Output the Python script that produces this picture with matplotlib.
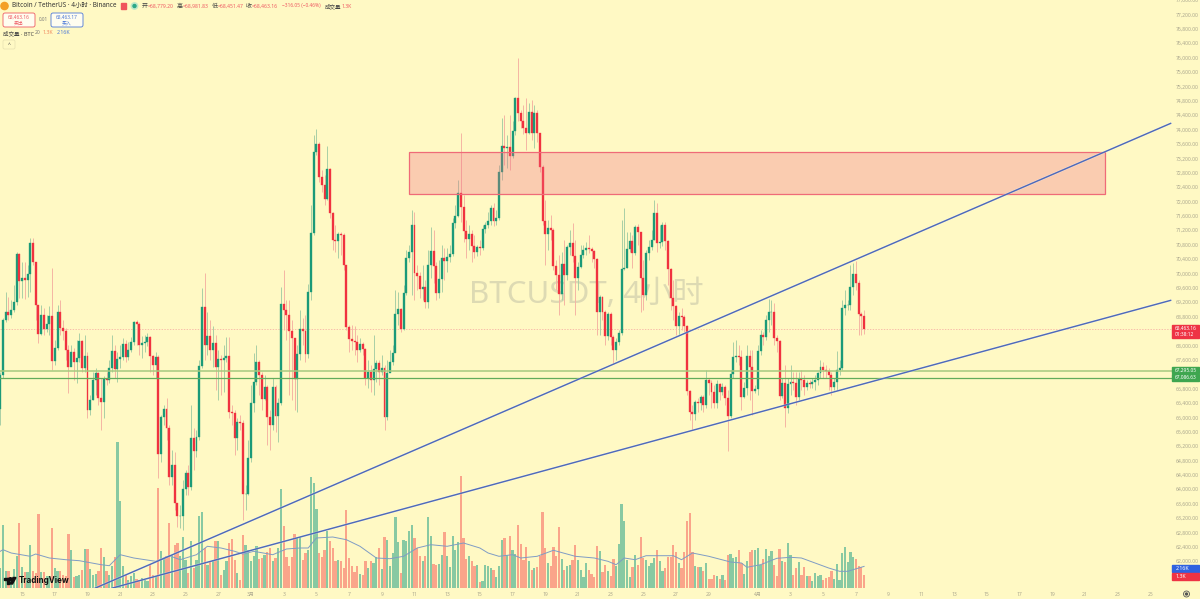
import numpy as np
import matplotlib
matplotlib.use("Agg")
import matplotlib.pyplot as plt
from matplotlib.patches import Circle, Polygon, Rectangle, FancyBboxPatch

plt.rcParams['font.family'] = ['Noto Sans', 'Noto Sans CJK SC', 'DejaVu Sans']

first_open = 66230
closes = [
    67170, 68700, 68920, 68840, 68980, 69200, 70530, 69780, 69870, 69810,
    69980, 70840, 70310, 69120, 68310, 68840, 68450, 68590, 68810, 67560,
    67920, 68920, 68480, 68390, 67870, 67390, 67810, 67530, 67640, 68120,
    67370, 67700, 66200, 66480, 67030, 67230, 66530, 66420, 67060, 67030,
    67370, 67840, 67340, 67620, 67670, 68030, 67670, 67870, 68090, 68640,
    68590, 68010, 68060, 68090, 68230, 67700, 67450, 67670, 64980, 66000,
    66230, 65700, 64340, 64670, 63620, 63260, 63260, 64000, 64450, 64060,
    65420, 65060, 65450, 67420, 69060, 68010, 68250, 67870, 68060, 67390,
    67620, 67590, 67640, 67700, 66140, 66120, 65420, 65870, 65840, 63870,
    63870, 64870, 66390, 66980, 67530, 67170, 66510, 66840, 66000, 65780,
    66840, 66030, 66390, 69140, 68980, 68840, 68390, 68200, 67060, 67760,
    68450, 68390, 67760, 69480, 71120, 73370, 73590, 72670, 72450, 72060,
    72890, 71670, 70920, 70890, 71090, 71060, 70230, 68510, 68170, 68120,
    68090, 67870, 68030, 67890, 67090, 67250, 67030, 67340, 67500, 67250,
    67370, 66000, 67230, 67530, 67780, 68870, 69000, 68450, 69450, 70420,
    70590, 71340, 70000, 69920, 69560, 69620, 69200, 70230, 70620, 70200,
    69450, 69840, 70420, 70340, 70450, 70530, 71400, 71590, 72230, 71840,
    71170, 70950, 71090, 70760, 70590, 70730, 70700, 71230, 71340, 71450,
    71810, 71450, 71530, 72810, 73530, 73480, 73510, 73250, 73950, 74870,
    74450, 74230, 74030, 73890, 74480, 73890, 74450, 73890, 72950, 71450,
    71090, 71250, 71200, 70200, 69950, 69420, 70250, 69950, 70730, 70840,
    70480, 69870, 70170, 70500, 70640, 70700, 70670, 70620, 70390, 68920,
    69340, 68920, 68250, 68870, 68230, 67870, 68090, 68340, 70120, 70140,
    70670, 70890, 70560, 71280, 71140, 69870, 69390, 70560, 70730, 70920,
    71670, 70840, 70870, 71340, 70890, 70120, 69310, 69090, 68530, 68810,
    68780, 68530, 66730, 66140, 66090, 66420, 66390, 66560, 66340, 67030,
    66950, 66700, 66390, 66920, 66700, 66840, 66530, 66030, 67200, 67670,
    67700, 67670, 66560, 66810, 67700, 67390, 66730, 66780, 67840, 68280,
    68230, 68700, 68920, 68920, 68200, 68120, 66590, 66950, 66250, 66920,
    66980, 66950, 66560, 67060, 67030, 66840, 66950, 66920, 66980, 67030,
    67230, 67390, 67310, 67280, 67170, 66840, 66980, 67310, 67370, 69030,
    69120, 69120, 69620, 69980, 69730, 68870, 68810, 68463,
]
highs = [
    67250, 68750, 69480, 69340, 69260, 69670, 70590, 70560, 70310, 70310,
    70230, 70980, 70980, 70310, 69120, 69120, 69030, 68840, 69090, 70140,
    68140, 69120, 69260, 68700, 68480, 68010, 68010, 67920, 68140, 68340,
    68140, 68280, 67810, 66620, 67250, 67370, 67250, 67090, 67140, 67250,
    67590, 68280, 68010, 67810, 68010, 68200, 68140, 68090, 68230, 68670,
    68700, 68640, 68250, 68280, 68340, 68250, 67730, 67810, 67730, 66060,
    66340, 66530, 65780, 65090, 65030, 63620, 63560, 64250, 64530, 64670,
    66340, 65700, 65640, 67590, 69590, 70000, 68920, 68700, 68530, 68280,
    67870, 67730, 68010, 68230, 68230, 66340, 66200, 65980, 66060, 65920,
    64120, 65370, 66890, 67780, 68010, 67590, 67250, 67170, 66890, 66200,
    67090, 66890, 66530, 69620, 70090, 69260, 69260, 68700, 68200, 68010,
    68980, 68750, 68840, 69700, 71890, 73840, 74000, 73640, 72870, 72730,
    73530, 72920, 71700, 71340, 71140, 71140, 71120, 70230, 68560, 68560,
    68530, 68280, 68200, 68090, 67920, 67590, 67450, 68280, 67590, 67590,
    67730, 67450, 67590, 67870, 68010, 69530, 69480, 69030, 69670, 70640,
    70780, 71760, 71700, 70230, 70030, 70230, 69810, 70640, 71280, 71200,
    70310, 70370, 70780, 70700, 70700, 70780, 71530, 71890, 72590, 73890,
    72170, 71480, 71340, 71200, 71060, 70780, 70920, 71340, 71420, 71700,
    71890, 71950, 71760, 73010, 74310, 74390, 73840, 74390, 74250, 74890,
    75980, 74530, 74670, 74870, 74750, 74810, 74670, 74530, 73890, 73010,
    72030, 71480, 71620, 71250, 70370, 70510, 70590, 70920, 70780, 71200,
    71390, 70920, 70310, 70780, 70780, 70870, 71060, 70730, 70640, 70420,
    69390, 69370, 68980, 68920, 68920, 68280, 68200, 68420, 71480, 71810,
    71140, 71140, 71060, 71340, 71370, 71140, 70370, 70640, 70920, 71200,
    72030, 71950, 71340, 71420, 71420, 70920, 70140, 69810, 69120, 68920,
    69030, 68840, 68560, 66750, 66340, 66480, 66530, 66620, 66620, 67310,
    67090, 67030, 66890, 67030, 66950, 66950, 66890, 66750, 67310, 68090,
    68140, 68010, 67870, 66980, 68010, 67870, 67870, 66890, 68010, 68420,
    68370, 68840, 69280, 69260, 69170, 68280, 68140, 67090, 67450, 67090,
    67450, 67250, 67250, 67250, 67310, 67170, 67030, 67030, 67090, 67170,
    67250, 67590, 67530, 67450, 67370, 67250, 67090, 67840, 67590, 69260,
    69530, 69260, 70230, 70280, 70340, 69810, 68920, 68980,
]
lows = [
    65780, 67090, 68640, 68700, 68750, 68920, 69120, 69310, 69310, 69280,
    69340, 69480, 70230, 68700, 68060, 68280, 68280, 68370, 68280, 67310,
    67450, 67870, 68280, 68140, 67590, 66670, 67450, 67030, 66950, 67530,
    67250, 67250, 65980, 66060, 66480, 66620, 66340, 65640, 65980, 66890,
    66950, 67250, 67090, 66980, 67370, 67590, 67530, 67590, 67810, 68010,
    68010, 67730, 67640, 67810, 67980, 67250, 67170, 67090, 64310, 64760,
    65780, 65370, 64120, 64120, 63420, 62950, 62920, 62870, 63840, 63840,
    63980, 64530, 64890, 65370, 67370, 67590, 67730, 67590, 67390, 66750,
    66480, 66620, 66700, 67530, 65980, 65780, 64950, 65090, 65640, 63140,
    63420, 63840, 64760, 66140, 66890, 66620, 66200, 66480, 65230, 65090,
    65640, 65590, 65310, 66340, 68420, 68140, 66620, 66480, 66200, 66140,
    67590, 68010, 67530, 67640, 69260, 71060, 73280, 72530, 72250, 71890,
    72030, 71530, 70640, 70590, 70420, 70510, 70090, 68420, 67810, 67870,
    67730, 67530, 67810, 67730, 66890, 66810, 66700, 66620, 66980, 66890,
    67170, 65640, 65920, 67250, 67450, 67810, 68560, 68370, 68420, 69390,
    70310, 69390, 69260, 69530, 69310, 69260, 69030, 69030, 69870, 69730,
    69260, 69310, 69480, 69810, 70030, 70310, 70480, 71260, 71560, 71420,
    70870, 70420, 70640, 70310, 70420, 70480, 70510, 70640, 71120, 71260,
    71340, 71310, 71340, 71480, 72590, 73010, 72920, 72870, 73200, 73840,
    74250, 74030, 73870, 73420, 73870, 73700, 73480, 73640, 72810, 71340,
    70230, 70640, 70920, 70090, 69530, 68840, 69260, 69120, 69810, 70510,
    70310, 68840, 69530, 70140, 70420, 70510, 70560, 70310, 70140, 68280,
    68280, 68700, 68010, 68140, 68010, 67510, 67590, 68010, 68280, 70090,
    70140, 70590, 70140, 70510, 70780, 68920, 68980, 69260, 70370, 70640,
    70920, 70590, 70700, 70750, 70640, 69670, 68980, 68700, 68280, 68280,
    68420, 68370, 66620, 65920, 65640, 65920, 66140, 66200, 66140, 66250,
    66620, 66250, 66250, 66250, 66480, 66620, 66340, 65060, 65980, 67090,
    67530, 67450, 66200, 66530, 66620, 66480, 66060, 66670, 66620, 67730,
    68010, 68140, 68370, 68560, 68010, 67810, 66480, 66530, 65730, 66120,
    66620, 66750, 66340, 66480, 66750, 66620, 66750, 66810, 66810, 66750,
    66890, 67090, 67090, 67090, 66750, 66620, 66750, 66750, 67170, 67310,
    68840, 68980, 68980, 69390, 69530, 68280, 68280, 68310,
]
# volume in thousands of BTC
volumes = [
    2.0, 6.3, 1.7, 1.7, 1.0, 1.9, 3.2, 6.5, 2.1, 1.6,
    1.6, 4.3, 1.7, 1.5, 7.4, 1.6, 1.6, 1.2, 1.2, 6.0,
    2.0, 1.7, 1.7, 1.3, 1.2, 5.4, 3.8, 1.1, 1.2, 1.3,
    1.8, 3.9, 3.9, 1.9, 1.3, 1.4, 1.7, 4.0, 3.1, 1.7,
    1.3, 2.2, 3.1, 14.6, 8.7, 2.2, 1.3, 0.8, 1.2, 1.5,
    0.9, 0.8, 1.0, 0.8, 0.7, 2.3, 1.3, 1.2, 10.0, 3.7,
    2.9, 3.2, 6.5, 3.3, 4.3, 4.5, 3.2, 5.1, 2.8, 1.5,
    4.7, 2.0, 2.8, 7.2, 7.6, 4.0, 2.3, 2.6, 2.8, 4.7,
    4.7, 1.3, 1.8, 2.7, 4.5, 4.9, 2.8, 1.5, 0.8, 5.3,
    4.3, 3.8, 2.7, 3.2, 4.2, 2.9, 3.0, 3.3, 3.6, 4.0,
    2.7, 3.0, 4.0, 9.9, 6.2, 3.1, 2.2, 3.1, 5.4, 5.0,
    5.1, 2.8, 3.5, 3.8, 11.1, 10.5, 7.9, 3.5, 3.1, 3.8,
    5.7, 4.7, 4.0, 2.7, 2.8, 2.7, 2.0, 7.8, 3.0, 2.2,
    1.6, 2.2, 1.4, 1.3, 2.7, 2.0, 2.7, 2.5, 3.1, 4.0,
    1.9, 5.1, 4.8, 2.2, 3.5, 7.1, 4.6, 1.5, 4.8, 4.7,
    5.7, 6.3, 5.0, 4.0, 3.2, 2.7, 3.2, 7.1, 5.2, 2.4,
    2.3, 2.4, 3.3, 5.6, 3.2, 2.1, 5.2, 3.8, 4.6, 11.2,
    5.0, 2.9, 3.2, 2.7, 2.2, 2.3, 0.6, 0.7, 2.3, 2.2,
    2.0, 1.8, 1.1, 2.2, 4.8, 5.0, 3.3, 5.2, 3.8, 3.4,
    6.3, 4.4, 2.8, 4.1, 2.7, 1.8, 2.0, 2.1, 3.2, 7.6,
    4.0, 2.5, 2.2, 4.1, 3.2, 6.1, 2.9, 1.8, 2.2, 2.3,
    2.8, 4.3, 2.8, 1.8, 1.1, 2.5, 1.8, 1.4, 1.1, 4.2,
    3.7, 1.6, 2.3, 1.7, 1.2, 2.9, 2.2, 4.4, 8.4, 6.7,
    2.8, 1.1, 2.1, 3.3, 2.3, 5.1, 3.0, 2.8, 2.2, 2.5,
    3.0, 3.8, 2.7, 1.7, 2.0, 3.1, 3.1, 4.3, 3.6, 2.5,
    2.0, 3.6, 6.7, 7.5, 3.6, 2.2, 2.1, 2.1, 1.7, 2.5,
    0.9, 0.9, 1.3, 1.2, 0.9, 1.3, 0.8, 3.3, 3.4, 3.0,
    3.1, 3.8, 2.5, 1.4, 2.7, 3.6, 3.8, 3.8, 4.0, 2.3,
    2.9, 3.9, 3.2, 3.7, 2.3, 1.2, 3.9, 2.7, 2.6, 4.5,
    3.3, 1.3, 2.0, 2.6, 1.3, 2.1, 1.2, 1.2, 0.7, 1.5,
    1.2, 1.3, 0.8, 1.0, 1.1, 1.7, 0.9, 2.4, 0.8, 3.5,
    4.1, 2.6, 3.6, 3.1, 2.9, 2.2, 2.1, 1.3,
]
# volume moving average, read at these candles
ma_index = [0, 1, 4, 11, 13, 18, 24, 29, 37, 40, 44, 49, 57, 62, 66, 72, 76, 81, 86, 89,
            93, 100, 105, 110, 113, 116, 122, 127, 132, 138, 143, 148, 153, 158, 164, 170,
            176, 179, 183, 188, 191, 197, 203, 211, 218, 223, 226, 229, 233, 237, 247, 250,
            254, 260, 268, 272, 274, 279, 285, 290, 294, 304, 308, 311, 317]
ma_values = [3.67, 3.83, 3.5, 3.17, 3.4, 3.0, 2.83, 2.73, 2.33, 2.23, 3.33, 3.0, 2.67, 3.23, 2.83, 3.33, 4.17, 4.0, 3.67, 3.4,
             3.67, 3.33, 3.9, 4.0, 4.0, 5.0, 5.1, 4.83, 4.17, 3.0, 2.93, 3.17, 4.0, 4.33, 4.17, 4.5,
             4.0, 3.5, 3.17, 3.33, 3.0, 3.17, 3.77, 3.17, 3.0, 2.67, 2.33, 3.0, 2.83, 3.23, 3.23, 2.83,
             3.5, 3.17, 2.6, 2.5, 2.07, 2.33, 2.97, 3.07, 3.0, 2.0, 1.67, 1.67, 2.16]

price_ticks = list(range(62000, 77601, 400))
date_ticks = list(range(8, 93, 12)) + list(range(104, 261, 12)) + list(range(278, 423, 12))
date_labels = ['15', '17', '19', '21', '23', '25', '27', '3月',
               '3', '5', '7', '9', '11', '13', '15', '17', '19', '21', '23', '25', '27', '29',
               '4月', '3', '5', '7', '9', '11', '13', '15', '17', '19', '21', '23', '25']

support_levels = [67295.05, 67086.63]
last_price = 68463.16
zone_x = [150.1, 405.5]
zone_price = [72200, 73380]
trend_upper_x = [34.8, 429.5]
trend_upper_y = [61250, 74170]
trend_lower_x = [41, 429.5]
trend_lower_y = [61250, 69250]

BG = '#FFF9C4'
UP, DOWN = '#1B9A78', '#F0323F'
UP_WICK, DOWN_WICK = '#A9CFA6', '#F5B5A4'
UP_VOL, DOWN_VOL = '#88C9A2', '#FAA58A'
GREY = '#ABA78E'


def draw_candles(ax):
    idx = np.arange(len(closes))
    c = np.array(closes, dtype=float)
    o = np.r_[first_open, c[:-1]]
    up = c >= o
    ax.vlines(idx, lows, highs, colors=np.where(up, UP_WICK, DOWN_WICK), lw=0.7, zorder=3)
    body_col = np.where(up, UP, DOWN)
    ax.bar(idx, c - o, bottom=o, width=0.72, color=body_col, edgecolor=body_col, lw=0.25, zorder=4)
    return up


def draw_volume(ax, up):
    idx = np.arange(len(volumes))
    ax.bar(idx, volumes, width=0.82, color=np.where(up, UP_VOL, DOWN_VOL), lw=0, zorder=1)
    ax.plot(ma_index, ma_values, color='#7F9CC4', lw=0.7, zorder=2)


def chrome(ov):
    red, blue = '#EE5A63', '#4C78D8'
    ov.add_patch(Circle((4.5, 6), 3.6, color='#F4A024'))
    ov.text(12, 6, 'Bitcoin / TetherUS · 4小时 · Binance', fontsize=4.6, color='#333333', va='center')
    ov.add_patch(Rectangle((121, 3), 5, 6, color='#F0555C'))
    ov.add_patch(Circle((134.5, 6), 3.2, color='#BFE8C8'))
    ov.add_patch(Circle((134.5, 6), 1.5, color='#2BA888'))
    for x, name, val in [(142, '开', '=68,779.20'), (177, '高', '=68,981.83'),
                         (212, '低', '=68,451.47'), (246, '收', '=68,463.16')]:
        ov.text(x, 6, name, fontsize=4.3, color='#444444', va='center')
        ov.text(x + 6, 6, val, fontsize=3.6, color=red, va='center')
    ov.text(282, 6, '−316.05 (−0.46%)', fontsize=3.5, color=red, va='center')
    ov.text(325, 6, '成交量', fontsize=4.0, color='#444444', va='center')
    ov.text(342, 6, '1.3K', fontsize=3.6, color=red, va='center')

    for x0, col, price, word in [(3, red, '68,463.16', '卖出'), (51, blue, '68,463.17', '买入')]:
        ov.add_patch(FancyBboxPatch((x0, 13), 32, 14, boxstyle='round,pad=0,rounding_size=2',
                                    fc='#FFFDF0', ec=col, lw=0.6))
        ov.text(x0 + 16, 17, price, fontsize=3.5, color=col, ha='center', va='center')
        ov.text(x0 + 16, 23, word, fontsize=3.5, color=col, ha='center', va='center')
    ov.text(43, 19.5, '0.01', fontsize=3.2, color='#777777', ha='center', va='center')

    ov.text(3, 33, '成交量 · BTC', fontsize=4.0, color='#444444', va='center')
    ov.text(35, 33, '20', fontsize=3.6, color='#777777', va='center')
    ov.text(43, 33, '1.3K', fontsize=3.8, color='#F08A60', va='center')
    ov.text(57, 33, '2.16K', fontsize=3.8, color=blue, va='center')
    ov.add_patch(FancyBboxPatch((3, 40), 12, 9, boxstyle='round,pad=0,rounding_size=1.5',
                                fc=BG, ec='#E6E0B0', lw=0.5))
    ov.text(9, 44.5, '^', fontsize=3.6, color='#444444', ha='center', va='center')

    # price tags on the axis
    ov.add_patch(Rectangle((1172, 325), 27, 12.5, color='#EE3344'))
    ov.text(1175, 328.5, '68,463.16', fontsize=3.5, color='white', va='center')
    ov.text(1175, 334, '01:38:12', fontsize=3.5, color='white', va='center')
    for y, label in [(370, '67,295.05'), (377.5, '67,086.63')]:
        ov.add_patch(Rectangle((1172, y - 3.2), 27, 6.4, color='#3FA650'))
        ov.text(1175, y, label, fontsize=3.5, color='white', va='center')
    ov.add_patch(Rectangle((1172, 565), 27, 7, color='#2F62E0'))
    ov.text(1176, 568.5, '2.16K', fontsize=3.8, color='white', va='center')
    ov.add_patch(Rectangle((1172, 573), 27, 7, color='#EE3344'))
    ov.text(1176, 576.5, '1.3K', fontsize=3.8, color='white', va='center')

    ov.add_patch(Circle((1186.5, 594), 3, fc='none', ec='#555555', lw=0.6))
    ov.add_patch(Circle((1186.5, 594), 1, color='#555555'))

    # TradingView mark
    ov.add_patch(Rectangle((4, 577.5), 5, 2, color='#111111'))
    ov.add_patch(Rectangle((6.5, 577.5), 2.5, 6.5, color='#111111'))
    ov.add_patch(Circle((10.5, 579), 1.3, color='#111111'))
    ov.add_patch(Polygon([(13, 577.5), (16, 577.5), (12.5, 584), (10, 584)], color='#111111'))
    ov.text(19, 580.5, 'TradingView', fontsize=5.8, fontweight='bold', color='#111111', va='center',
            family=['Inter', 'DejaVu Sans'])


def main():
    fig = plt.figure(figsize=(12, 5.99), dpi=100, facecolor=BG)
    # 1172 px wide pane, bottom edge at y = 588 px
    pos = [0, 11 / 599, 1172 / 1200, 588 / 599]
    ax = fig.add_axes(pos, facecolor=BG, zorder=2)
    vol = fig.add_axes(pos, facecolor=BG, zorder=1)
    ov = fig.add_axes([0, 0, 1, 1], zorder=3)
    ov.set_xlim(0, 1200)
    ov.set_ylim(599, 0)
    ov.axis('off')
    ax.patch.set_alpha(0)

    up = draw_candles(ax)
    draw_volume(vol, up)

    ax.set_xlim(-0.11, 430)
    ax.set_ylim(61254, 77589)
    vol.set_xlim(-0.11, 430)
    vol.set_ylim(0, 58.8)
    vol.axis('off')

    ax.set_xticks(date_ticks)
    ax.set_xticklabels(date_labels)
    ax.yaxis.tick_right()
    ax.set_yticks(price_ticks)
    ax.set_yticklabels([f'{p:,.2f}' for p in price_ticks])
    ax.tick_params(axis='both', length=0, labelcolor=GREY, labelsize=3.6, pad=2.5)
    ax.tick_params(axis='x', pad=3)
    for spine in ax.spines.values():
        spine.set_visible(False)

    ax.text(215, 69400, 'BTCUSDT, 4小时', fontsize=22.5, color='#B5B5A0', alpha=0.45, ha='center', va='center', zorder=0)

    ax.axhline(last_price, color='#F5A6A0', lw=0.5, ls=(0, (2, 2)), zorder=2)
    ax.axhline(support_levels[0], color='#A5C97F', lw=1.1, zorder=5)
    ax.axhline(support_levels[1], color='#62AC5C', lw=0.9, zorder=5)

    ax.add_patch(Rectangle((zone_x[0], zone_price[0]), zone_x[1] - zone_x[0], zone_price[1] - zone_price[0],
                           facecolor=(0.945, 0.404, 0.51, 0.3), edgecolor='#EF6B78', lw=0.9, zorder=6))
    ax.plot(trend_upper_x, trend_upper_y, color='#FFFFFF', lw=1.8, alpha=0.35, zorder=7)
    ax.plot(trend_lower_x, trend_lower_y, color='#FFFFFF', lw=1.8, alpha=0.35, zorder=7)
    ax.plot(trend_upper_x, trend_upper_y, color='#4E6ABA', lw=1.05, zorder=8)
    ax.plot(trend_lower_x, trend_lower_y, color='#4E6ABA', lw=1.05, zorder=8)

    chrome(ov)
    fig.savefig('out.png', dpi=100, facecolor=BG)


if __name__ == '__main__':
    main()
